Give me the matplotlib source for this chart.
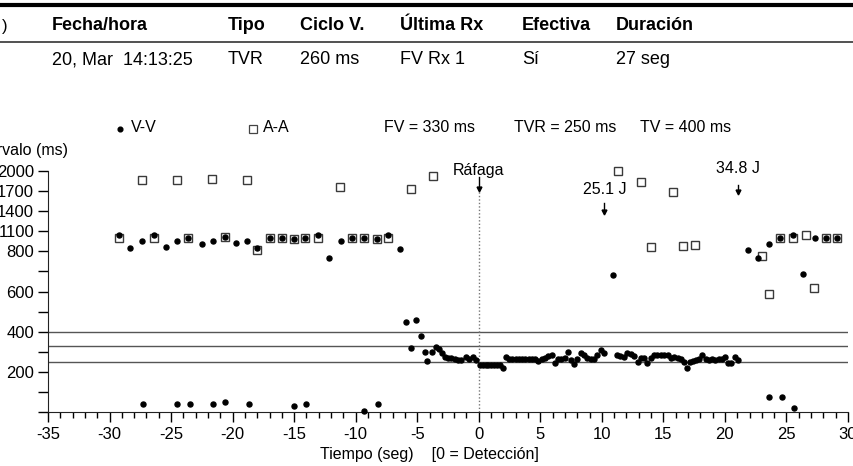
import numpy as np
import matplotlib
matplotlib.use('Agg')
import matplotlib.pyplot as plt
from matplotlib.lines import Line2D
from matplotlib.ticker import FixedLocator

plt.rcParams['font.family'] = ['Liberation Sans', 'DejaVu Sans']
plt.rcParams['axes.unicode_minus'] = False

W, H = 854, 466

# table above the plot
header = ['Fecha/hora', 'Tipo', 'Ciclo V.', 'Última Rx', 'Efectiva', 'Duración']
row = ['20, Mar  14:13:25', 'TVR', '260 ms', 'FV Rx 1', 'Sí', '27 seg']
col_x = [52, 228, 300, 400, 522, 616]

# detection zones (ms)
zone_names = ['FV = 330 ms', 'TVR = 250 ms', 'TV = 400 ms']
zone_ms = [330, 250, 400]

# V-V intervals: time (s), interval (ms)
vv_t = [-29.2, -28.3, -27.4, -27.3, -26.4, -25.4, -24.5, -24.5, -23.6, -23.5,
        -22.5, -21.6, -21.6, -20.6, -20.6, -19.7, -18.8, -18.7, -18.0, -17.0,
        -16.0, -15.0, -15.0, -14.1, -14.0, -13.1, -12.2, -11.2, -10.3, -9.3,
        -9.3, -8.3, -8.2, -7.4, -6.4,
        -5.9, -5.5, -5.1, -4.7, -4.4, -4.2, -3.8, -3.5, -3.2, -3.0,
        -2.76, -2.49, -2.22, -1.95, -1.68, -1.41, -1.06, -0.79, -0.46, -0.19,
        0.10, 0.33, 0.56, 0.79, 1.02, 1.25, 1.48, 1.71, 1.95,
        2.20, 2.47, 2.73, 3.00, 3.26, 3.53, 3.79, 4.06, 4.32, 4.59,
        4.85, 5.11, 5.38, 5.65, 5.92, 6.18, 6.44, 6.70, 6.97, 7.24,
        7.50, 7.75, 8.01, 8.28, 8.55, 8.82, 9.08, 9.35, 9.62, 9.90, 10.20,
        10.90,
        11.22, 11.50, 11.78, 12.06, 12.35, 12.63, 12.90, 13.17, 13.44, 13.70,
        13.96, 14.23, 14.51, 14.79, 15.07, 15.35, 15.63, 15.90, 16.17, 16.42,
        16.66, 16.90, 17.15, 17.40, 17.65, 17.90, 18.17, 18.44, 18.70, 18.96,
        19.22, 19.48, 19.75, 20.00, 20.25, 20.50, 20.78, 21.05,
        21.9, 22.7, 23.6, 23.6, 24.45, 24.6, 25.5, 25.6, 26.35, 27.35, 28.2, 29.1]
vv_ms = [1040, 845, 950, 40, 1050, 860, 950, 40, 995, 40,
         905, 950, 40, 1010, 52, 920, 950, 40, 845, 995,
         995, 980, 32, 995, 40, 1040, 765, 950, 995, 995,
         7, 980, 40, 1040, 830,
         449, 320, 457, 378, 298, 252, 298, 322, 313, 293,
         275, 268, 268, 263, 257, 260, 272, 263, 273, 260,
         232, 232, 232, 232, 232, 232, 232, 232, 220,
         275, 265, 265, 265, 265, 265, 265, 265, 265, 265,
         252, 262, 270, 280, 285, 242, 262, 265, 268, 300,
         258, 240, 262, 293, 285, 270, 262, 265, 285, 310, 293,
         681,
         282, 278, 275, 293, 287, 280, 250, 270, 268, 243,
         268, 285, 285, 285, 285, 285, 270, 275, 270, 262,
         250, 220, 250, 255, 258, 262, 285, 265, 258, 262,
         258, 265, 262, 275, 245, 245, 275, 258,
         820, 765, 910, 73, 995, 73, 1040, 20, 685, 995, 995, 995]

# A-A intervals
aa_t = [-29.2, -27.4, -26.4, -24.5, -23.6, -21.7, -20.6, -18.8, -18.0, -17.0,
        -16.0, -15.0, -14.1, -13.1, -11.3, -10.3, -9.3, -8.3, -7.4, -5.5,
        -3.7, 11.3, 13.2, 14.0, 15.8, 16.6, 17.55, 23.0, 23.55, 24.45,
        25.5, 26.6, 27.2, 28.2, 29.1]
aa_ms = [995, 1865, 995, 1865, 995, 1875, 1010, 1870, 815, 995,
         995, 990, 995, 995, 1760, 995, 995, 990, 995, 1730,
         1925, 2000, 1830, 865, 1680, 880, 890, 776, 590, 995,
         995, 1045, 615, 995, 995]

# events: label, time, text y, arrow start, arrow end
events = [('Ráfaga', 0.0, 2010, 1910, 1730),
          ('25.1 J', 10.2, 1730, 1520, 1385),
          ('34.8 J', 21.05, 2030, 1790, 1685)]


def fwd(v):
    v = np.asarray(v, dtype=float)
    return np.where(v <= 800, v, 800 + (v - 800) / 3.0)


def inv(u):
    u = np.asarray(u, dtype=float)
    return np.where(u <= 800, u, 800 + (u - 800) * 3.0)


def fx(px):
    return px / W


def fy(py):
    return 1 - py / H


fig = plt.figure(figsize=(W / 100, H / 100), dpi=100)

# header table
fig.add_artist(Line2D([0, 1], [fy(5), fy(5)], color='black', lw=3, transform=fig.transFigure))
fig.add_artist(Line2D([0, 1], [fy(42), fy(42)], color='#333333', lw=1.2, transform=fig.transFigure))
fig.text(fx(2), fy(26), ')', fontsize=12, va='center', ha='left')
for x, h, r in zip(col_x, header, row):
    fig.text(fx(x), fy(26), h, fontsize=13, fontweight='bold', va='center', ha='left')
    fig.text(fx(x), fy(60), r, fontsize=13, va='center', ha='left')

# legend line
fig.add_artist(Line2D([fx(120)], [fy(129)], marker='o', ms=3.4, color='black', ls='none',
                      transform=fig.transFigure))
fig.text(fx(131), fy(128), 'V-V', fontsize=11.5, va='center')
fig.add_artist(Line2D([fx(253)], [fy(129)], marker='s', ms=5.5, mfc='white', mec='#444444',
                      mew=0.9, ls='none', transform=fig.transFigure))
fig.text(fx(263), fy(128), 'A-A', fontsize=11.5, va='center')
for x, name in zip([384, 514, 640], zone_names):
    fig.text(fx(x), fy(128), name, fontsize=11.5, va='center')

fig.text(fx(68), fy(150), 'Intervalo (ms)', fontsize=11.5, va='center', ha='right')

ax = fig.add_axes([fx(48), fy(412), 800 / W, 241 / H])
ax.set_yscale('function', functions=(fwd, inv))
ax.set_xlim(-35, 30)
ax.set_ylim(0, 2000)

for v in zone_ms:
    ax.axhline(v, color='#555555', lw=1, zorder=1)
ax.plot([0, 0], [0, 1720], color='#777777', lw=1, ls=(0, (1, 1.5)), zorder=1)

ax.plot(aa_t, aa_ms, ls='none', marker='s', ms=6.2, mfc='none', mec='#3a3a3a', mew=1.0,
        clip_on=False, zorder=2)
ax.plot(vv_t, vv_ms, ls='none', marker='o', ms=3.6, color='black', clip_on=False, zorder=3)

# event labels with small down arrows
for label, t, ty, a0, a1 in events:
    ax.text(t, ty, label, fontsize=11.5, ha='center', va='center', clip_on=False)
    ax.plot([t, t], [a0, a1], color='black', lw=1, clip_on=False, zorder=4)
    ax.plot([t], [a1], marker='v', ms=3.5, color='black', clip_on=False, zorder=4)

for s in ['top', 'right']:
    ax.spines[s].set_visible(False)
ax.spines['left'].set_color('#222222')
ax.spines['bottom'].set_color('#222222')

ax.xaxis.set_major_locator(FixedLocator(np.arange(-35, 31, 5)))
ax.xaxis.set_minor_locator(FixedLocator(np.arange(-35, 31, 1)))
ax.tick_params(axis='x', which='major', length=7, width=1, labelsize=12, pad=4)
ax.tick_params(axis='x', which='minor', length=4, width=1)

ax.yaxis.set_major_locator(FixedLocator([200, 400, 600, 800, 1100, 1400, 1700, 2000]))
ax.yaxis.set_minor_locator(FixedLocator([0, 100, 300, 500, 700]))
ax.set_yticklabels(['200', '400', '600', '800', '1100', '1400', '1700', '2000'])
ax.tick_params(axis='y', which='both', length=7, width=1, labelsize=12, pad=3)

fig.text(fx(429), fy(455), 'Tiempo (seg)    [0 = Detección]', fontsize=11.5, ha='center', va='center')

fig.savefig('out.png', dpi=100)
